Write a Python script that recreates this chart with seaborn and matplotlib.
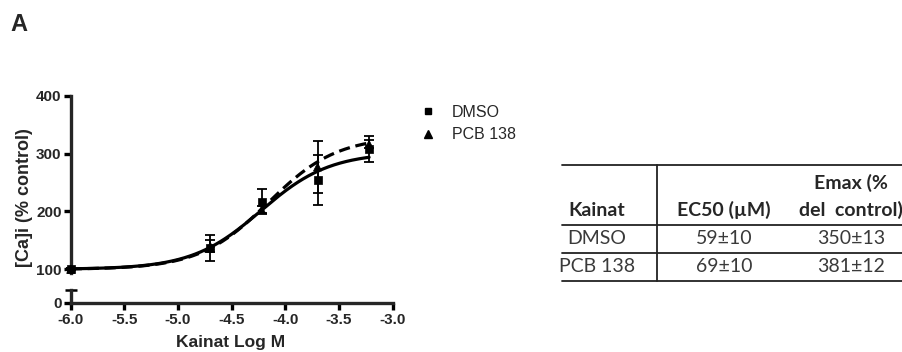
import numpy as np
import pandas as pd
import matplotlib
matplotlib.use("Agg")
import matplotlib.pyplot as plt
from matplotlib.lines import Line2D
import seaborn as sns

# ---- data -------------------------------------------------------------
log_conc = [-6.0, -4.70, -4.22, -3.70, -3.22]          # log M kainate
dmso_mean = [100, 137, 217, 254, 308]
dmso_sem = [2, 23, 22, 43, 22]
pcb_mean = [100, 140, 203, 277, 316]
pcb_sem = [2, 10, 6, 45, 7]

groups = ["DMSO", "PCB 138"]
ec50_text = ["59±10", "69±10"]
emax_text = ["350±13", "381±12"]
ec50_um = [59, 69]           # µM, from the fit table
fit_top = [302, 330]         # plateau of the plotted fit
fit_hill = [1.35, 1.35]
fit_bottom = 100

x_ticks = [-6.0, -5.5, -5.0, -4.5, -4.0, -3.5, -3.0]
y_ticks_upper = [100, 200, 300, 400]
y_ticks_lower = [0]

# ---- style ------------------------------------------------------------
sns.set_style("ticks")
plt.rcParams["font.family"] = ["Liberation Sans", "DejaVu Sans"]
plt.rcParams["axes.unicode_minus"] = False

W, H = 903, 352
fig = plt.figure(figsize=(W / 100, H / 100), dpi=100)


def fx(px):
    return px / W


def fy(py):
    return 1 - py / H


left, right = 70.7, 392.7
ax = fig.add_axes([fx(left), fy(273), fx(right) - fx(left), fy(95.7) - fy(273)])
axb = fig.add_axes([fx(left), fy(302.7), fx(right) - fx(left), fy(290) - fy(302.7)])

# ---- fitted curves ----------------------------------------------------
rows = []
xs = np.linspace(log_conc[0], log_conc[-1], 300)
for g, ec, top, n in zip(groups, ec50_um, fit_top, fit_hill):
    logec = np.log10(ec * 1e-6)
    ys = fit_bottom + (top - fit_bottom) / (1 + 10 ** ((logec - xs) * n))
    rows.append(pd.DataFrame({"x": xs, "y": ys, "group": g}))
curves = pd.concat(rows, ignore_index=True)

sns.lineplot(data=curves, x="x", y="y", style="group",
             dashes={"DMSO": "", "PCB 138": (3.5, 1.8)},
             color="black", linewidth=2.3, legend=False, ax=ax)

# ---- data points with error bars -------------------------------------
pts = pd.DataFrame({
    "x": log_conc * 2,
    "y": dmso_mean + pcb_mean,
    "sem": dmso_sem + pcb_sem,
    "group": [groups[0]] * len(log_conc) + [groups[1]] * len(log_conc),
})
ax.errorbar(pts["x"], pts["y"], yerr=pts["sem"], fmt="none", ecolor="black",
            elinewidth=1.3, capsize=3.8, capthick=1.3, clip_on=False, zorder=3)
sns.scatterplot(data=pts, x="x", y="y", style="group",
                markers={"DMSO": "s", "PCB 138": "^"}, color="black",
                s=34, edgecolor="black", linewidth=0.5, legend=False,
                ax=ax, zorder=4, clip_on=False)

# ---- axes -------------------------------------------------------------
lw = 2.4
ax.set_xlim(-6.0, -3.0)
axb.set_xlim(-6.0, -3.0)
ax.set_ylim(93.6, 400)
axb.set_ylim(0, 21.9)

for a in (ax, axb):
    a.spines["top"].set_visible(False)
    a.spines["right"].set_visible(False)
    a.spines["left"].set_linewidth(lw)
    a.spines["bottom"].set_linewidth(lw)
    a.tick_params(width=lw, length=5, labelsize=11, pad=1.5, color="black")
    a.set_xlabel("")
    a.set_ylabel("")
    a.patch.set_alpha(0)

ax.spines["bottom"].set_visible(False)
ax.tick_params(axis="x", which="both", bottom=False, labelbottom=False)
ax.set_yticks(y_ticks_upper)
ax.set_yticklabels([str(v) for v in y_ticks_upper], fontweight="bold")

axb.set_yticks(y_ticks_lower)
axb.set_yticklabels([str(v) for v in y_ticks_lower], fontweight="bold")
axb.set_xticks(x_ticks)
axb.set_xticklabels([f"{v:.1f}" for v in x_ticks], fontweight="bold")
axb.tick_params(axis="x", pad=2.5)
# small cap closing the lower segment of the broken axis
axb.plot([-6.0], [axb.get_ylim()[1]], marker="_", markersize=8,
         markeredgewidth=1.8, color="black", clip_on=False)

fig.text(fx(25), fy(198), "[Ca]i (% control)", rotation=90, ha="center",
         va="center", fontsize=13, fontweight="bold")
fig.text(fx(231), fy(342), "Kainat Log M", ha="center", va="center",
         fontsize=12.5, fontweight="bold")
fig.text(fx(18.8), fy(24.2), "A", ha="center", va="center", fontsize=17,
         fontweight="bold")

# ---- legend -----------------------------------------------------------
handles = [Line2D([], [], linestyle="none", marker="s", color="black", markersize=5),
           Line2D([], [], linestyle="none", marker="^", color="black", markersize=6)]
fig.legend(handles, groups, loc="upper left", bbox_to_anchor=(fx(420), fy(105)),
           frameon=False, fontsize=11.5, handlelength=1.0, handletextpad=1.0,
           labelspacing=0.45, borderpad=0, borderaxespad=0)

# ---- parameter table --------------------------------------------------
tab_font = ["Lato", "DejaVu Sans"]
line_kw = dict(color="#222222", linewidth=1.3)
t_left, t_right = 562, 902
row_lines = [165, 225, 253, 281]
for yline in row_lines:
    fig.add_artist(Line2D([fx(t_left), fx(t_right)], [fy(yline), fy(yline)], **line_kw))
fig.add_artist(Line2D([fx(656.7), fx(656.7)], [fy(row_lines[0]), fy(row_lines[-1])], **line_kw))

col_x = [597, 724, 851]
head_y = 210
hkw = dict(ha="center", va="center", fontsize=14, fontweight="bold",
           family=tab_font, color="#262626")
fig.text(fx(col_x[0]), fy(head_y), "Kainat", **hkw)
fig.text(fx(col_x[1]), fy(head_y), "EC50 (µM)", **hkw)
fig.text(fx(col_x[2]), fy(head_y - 27), "Emax (%", **hkw)
fig.text(fx(col_x[2]), fy(head_y), "del  control)", **hkw)

bkw = dict(ha="center", va="center", fontsize=14, family=tab_font,
           color="#3a3a3a")
for i, (g, ec, em) in enumerate(zip(groups, ec50_text, emax_text)):
    ymid = (row_lines[i + 1] + row_lines[i + 2]) / 2
    fig.text(fx(col_x[0]), fy(ymid), g, **bkw)
    fig.text(fx(col_x[1]), fy(ymid), ec, **bkw)
    fig.text(fx(col_x[2]), fy(ymid), em, **bkw)

fig.savefig("out.png", dpi=100)
